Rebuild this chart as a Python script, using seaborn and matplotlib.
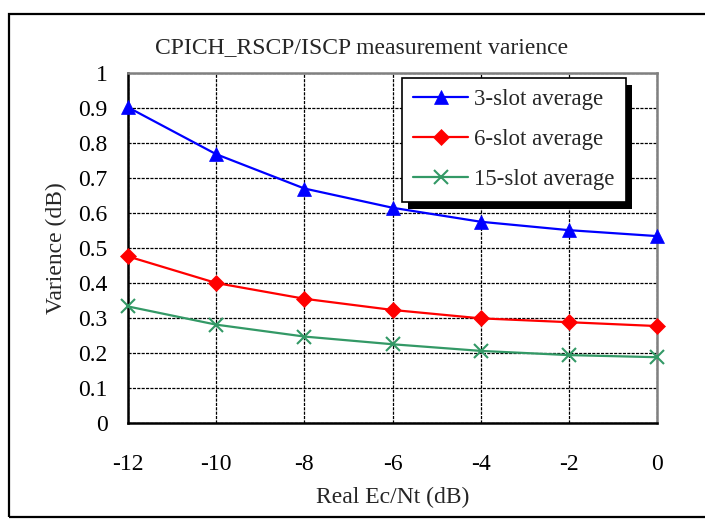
import matplotlib
matplotlib.use("Agg")
import matplotlib.pyplot as plt
from matplotlib.patches import Rectangle
from matplotlib.transforms import IdentityTransform
import seaborn as sns
import pandas as pd

x_vals = [-12, -10, -8, -6, -4, -2, 0]
slot3 = [0.902, 0.768, 0.670, 0.615, 0.575, 0.551, 0.534]
slot6 = [0.476, 0.400, 0.355, 0.323, 0.299, 0.288, 0.277]
slot15 = [0.333, 0.281, 0.247, 0.225, 0.206, 0.194, 0.188]
series_names = ["3-slot average", "6-slot average", "15-slot average"]
y_ticks = [0, 0.1, 0.2, 0.3, 0.4, 0.5, 0.6, 0.7, 0.8, 0.9, 1]
y_tick_labels = ["0", "0.1", "0.2", "0.3", "0.4", "0.5", "0.6", "0.7", "0.8", "0.9", "1"]

sns.set_style("white")
plt.rcParams['font.family'] = ['Liberation Serif', 'DejaVu Serif']

df = pd.DataFrame({
    "x": x_vals * 3,
    "y": slot3 + slot6 + slot15,
    "series": [series_names[0]] * 7 + [series_names[1]] * 7 + [series_names[2]] * 7,
})

fig = plt.figure(figsize=(7.05, 5.23), dpi=100)
ax = fig.add_axes([128 / 705, 1 - 423 / 523, (657 - 128) / 705, (423 - 73) / 523])

palette = {series_names[0]: "#0000FF", series_names[1]: "#FF0000", series_names[2]: "#339966"}
markers = {series_names[0]: "^", series_names[1]: "D", series_names[2]: "x"}
sizes_m = {series_names[0]: 10, series_names[1]: 8, series_names[2]: 10}

for name in series_names:
    sub = df[df["series"] == name]
    sns.lineplot(data=sub, x="x", y="y", ax=ax, color=palette[name], marker=markers[name],
                 markersize=sizes_m[name], markeredgewidth=1.5 if name == series_names[2] else 0.5,
                 markeredgecolor=palette[name], linewidth=1.6, label=name, clip_on=False,
                 zorder=3)

ax.set_xlim(-12, 0)
ax.set_ylim(0, 1)
ax.set_xticks(x_vals)
ax.set_xticklabels([str(v) for v in x_vals])
ax.set_yticks(y_ticks)
ax.set_yticklabels(y_tick_labels)
ax.grid(True, color="black", linestyle=(0, (2.5, 1)), linewidth=0.9)
ax.set_axisbelow(True)

for s in ["left", "bottom"]:
    ax.spines[s].set_color("black")
    ax.spines[s].set_linewidth(1.8)
for s in ["top", "right"]:
    ax.spines[s].set_color("#808080")
    ax.spines[s].set_linewidth(1.8)
    ax.spines[s].set_visible(True)

ax.tick_params(axis="both", direction="in", length=6, width=1.2, colors="black", labelsize=17)
ax.tick_params(axis="x", pad=22)
ax.tick_params(axis="y", pad=14.5)
ax.tick_params(top=False, right=False)

ax.set_xlabel("Real Ec/Nt (dB)", fontsize=17, labelpad=9)
ax.set_ylabel("Varience (dB)", fontsize=17, labelpad=8)
fig.text(362 / 705, 1 - 48 / 523, "CPICH_RSCP/ISCP measurement varience", ha="center", va="center",
         fontsize=17)

leg = ax.legend(loc="upper left", bbox_to_anchor=((402 - 128) / 529, (423 - 78) / 350), borderaxespad=0,
                fontsize=16.5, handlelength=2.4, handletextpad=0.26, labelspacing=0.82,
                frameon=True, fancybox=False, borderpad=0.5)
leg.get_frame().set_edgecolor("black")
leg.get_frame().set_linewidth(1.2)
leg.get_frame().set_facecolor("white")
leg.get_frame().set_alpha(1)
leg.set_zorder(6)

# outer frame
fig.add_artist(Rectangle((9 / 705, 1 - 517 / 523), 0.999, (517 - 14) / 523, transform=fig.transFigure,
                         fill=False, edgecolor="black", linewidth=1.6, clip_on=False))

fig.canvas.draw()
bb = leg.get_window_extent()
shadow = Rectangle((bb.x0 + 6, bb.y0 - 7), bb.width, bb.height, transform=IdentityTransform(),
                   facecolor="black", edgecolor="none", zorder=5.5, clip_on=False)
ax.add_artist(shadow)

fig.savefig("out.png", dpi=100)
